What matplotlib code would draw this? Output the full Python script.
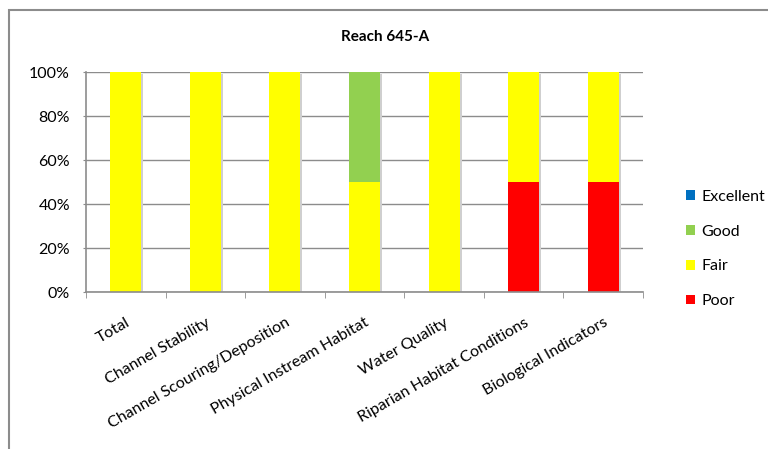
import numpy as np
import matplotlib
matplotlib.use('Agg')
import matplotlib.pyplot as plt
from matplotlib.patches import Rectangle

plt.rcParams['font.family'] = ['Lato', 'DejaVu Sans']

# 类别与各等级所占百分比
categories = ['Total', 'Channel Stability', 'Channel Scouring/Deposition',
              'Physical Instream Habitat', 'Water Quality',
              'Riparian Habitat Conditions', 'Biological Indicators']
poor = [0, 0, 0, 0, 0, 50, 50]
fair = [100, 100, 100, 50, 100, 50, 50]
good = [0, 0, 0, 50, 0, 0, 0]
excellent = [0, 0, 0, 0, 0, 0, 0]

fig = plt.figure(figsize=(7.68, 4.49), dpi=100)
# 外框
fig.patches.append(Rectangle((9 / 768, -0.1), 1.0, 1.1 - 10 / 449, transform=fig.transFigure,
                             fill=False, edgecolor='#8c8c8c', linewidth=1.5))

ax = fig.add_axes([86 / 768, 1 - 292 / 449, (643 - 86) / 768, (292 - 72) / 449])
x = np.arange(len(categories))
w = 0.39
poor = np.array(poor)
fair = np.array(fair)
good = np.array(good)
excellent = np.array(excellent)
total = poor + fair + good + excellent
# 阴影
ax.bar(x + 0.025, total - 0.5, w, bottom=-0.5, color='#cfcfcf', zorder=2)
ax.bar(x, poor, w, color='#ff0000', label='Poor', zorder=3)
ax.bar(x, fair, w, bottom=poor, color='#ffff00', label='Fair', zorder=3)
ax.bar(x, good, w, bottom=poor + fair, color='#92d050', label='Good', zorder=3)
ax.bar(x, excellent, w, bottom=poor + fair + good, color='#0070c0', label='Excellent', zorder=3)

ax.set_xlim(-0.5, len(categories) - 0.5)
ax.set_ylim(0, 100)
ax.set_yticks(np.arange(0, 101, 20))
ax.set_yticklabels(['%d%%' % v for v in range(0, 101, 20)], fontsize=11.5)
ax.yaxis.grid(True, color='#8c8c8c', linewidth=1, zorder=0)
ax.set_axisbelow(True)

ax.set_xticks(x)
ax.set_xticklabels(categories, rotation=30, ha='right', rotation_mode='anchor', fontsize=11.5)
ax.tick_params(axis='x', length=0, pad=17)
ax.set_xticks(np.arange(-0.5, len(categories)), minor=True)
ax.tick_params(axis='x', which='minor', length=4, color='#8c8c8c', direction='out')
ax.tick_params(axis='y', length=2.5, color='#8c8c8c', pad=9)

for s in ['top', 'right']:
    ax.spines[s].set_visible(False)
for s in ['left', 'bottom']:
    ax.spines[s].set_color('#8c8c8c')
    ax.spines[s].set_linewidth(1.2)
    ax.spines[s].set_zorder(4)

fig.text(385 / 768, 1 - 37 / 449, 'Reach 645-A', ha='center', va='center',
         fontsize=11, fontweight='bold')

h, l = ax.get_legend_handles_labels()
fig.legend(h[::-1], l[::-1], loc='center left', bbox_to_anchor=(672 / 768, 1 - 249 / 449),
           frameon=False, fontsize=11.5, handlelength=0.55, handleheight=0.55,
           handletextpad=0.4, labelspacing=1.3)

fig.savefig('out.png', dpi=100)
